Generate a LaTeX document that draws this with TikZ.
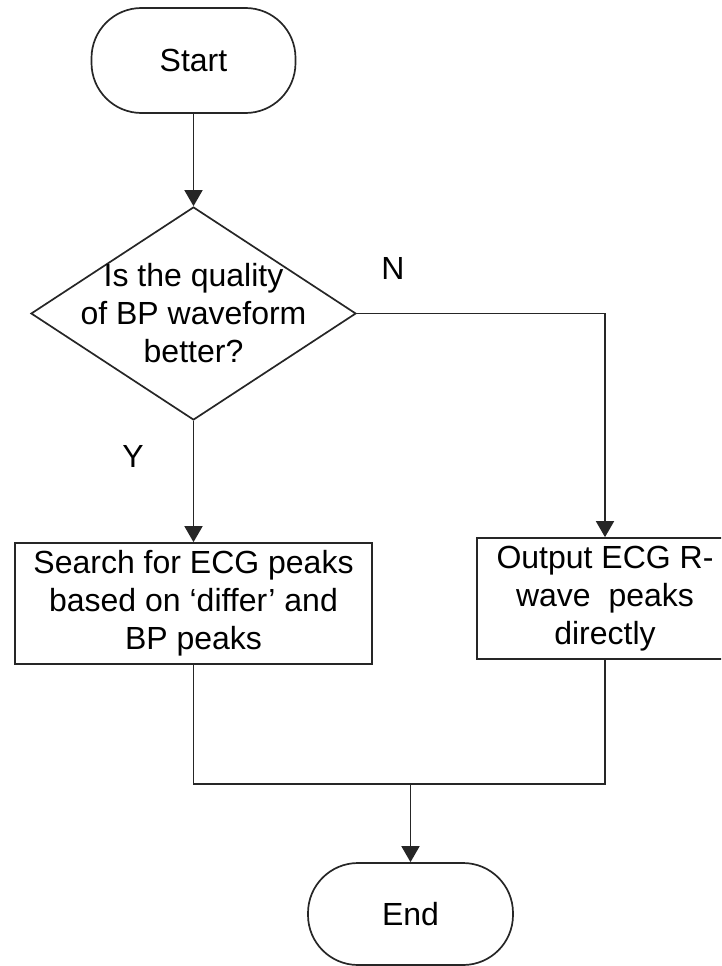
\documentclass[tikz,border=0pt]{standalone}
\usepackage{fontspec}
\setmainfont{Liberation Sans}
\usetikzlibrary{arrows.meta,shapes.geometric,calc}

\tikzset{
  line/.style={draw=black!85, line width=1.7pt},
  flow/.style={line, -{Triangle[length=16pt,width=18pt]}},
  terminal/.style={line, rounded corners=50pt, inner sep=0pt, font=\flowfont},
  procbox/.style={line, rectangle, inner sep=0pt, align=center, font=\flowfont},
  decision/.style={line, diamond, inner sep=0pt},
  plain/.style={inner sep=0pt, align=center, font=\flowfont},
}
\newcommand{\flowfont}{\fontsize{32}{38}\selectfont}

\begin{document}
\begin{tikzpicture}[x=1pt,y=-1pt]
  \useasboundingbox (0,0) rectangle (721,966);
  \clip (0,0) rectangle (721,966);

  % start / end terminals
  \node[terminal, minimum width=204pt, minimum height=105pt] (start) at (193.5,60.5) {Start};
  \node[terminal, minimum width=205pt, minimum height=102pt] (finish) at (410.5,914) {End};

  % decision diamond and its text
  \node[decision, minimum width=325pt, minimum height=213pt] (dec) at (193.5,313.5) {};
  \node[plain] (dectext) at (193.5,313) {Is the quality\\of BP waveform\\better?};

  % process boxes
  \node[procbox, minimum width=357pt, minimum height=121pt] (search) at (193.5,603.5)
    {Search for ECG peaks\\based on `differ' and\\BP peaks};
  \node[procbox, minimum width=256pt, minimum height=121pt] (output) at (605,598.5)
    {Output ECG R-\\wave\ \ peaks\\directly};

  % branch labels
  \node[plain] (ylab) at (133,456) {Y};
  \node[plain] (nlab) at (393,268) {N};

  % connectors
  \draw[flow] (start.south) -- (dec.north);
  \draw[flow] (dec.south) -- (search.north);
  \draw[flow] (dec.east) -| (output.north);

  \coordinate (merge) at (410.5,784);
  \draw[line] (search.south) |- (merge) -| (output.south);
  \draw[flow] (merge) -- (finish.north);
\end{tikzpicture}
\end{document}
